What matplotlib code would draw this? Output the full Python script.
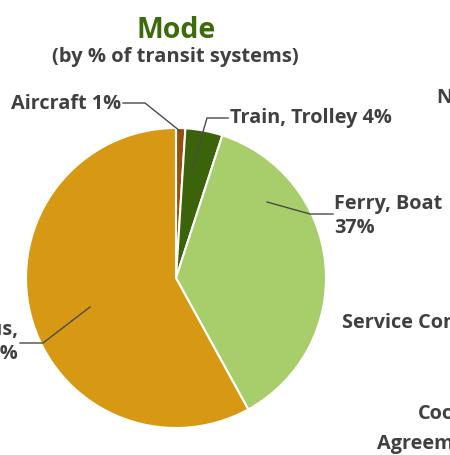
import matplotlib.pyplot as plt

labels = ['Aircraft', 'Train, Trolley', 'Ferry, Boat', 'Bus,']
shares = [1, 4, 37, 58]
colors = ['#96500e', '#3b6309', '#a8cd6b', '#d79914']

W, H = 450, 455
TXT = '#404040'
plt.rcParams['font.family'] = ['Open Sans', 'DejaVu Sans']

fig = plt.figure(figsize=(W / 100, H / 100), dpi=100)
ax = fig.add_axes([0, 0, 1, 1])


def py(y):
    # picture rows run downwards, data y upwards
    return H - y


ax.pie(shares, colors=colors, startangle=90, counterclock=False,
       center=(176, py(278)), radius=150,
       wedgeprops=dict(edgecolor='white', linewidth=1.5))
ax.set_xlim(0, W)
ax.set_ylim(0, H)
ax.set_aspect('equal')
ax.axis('off')

ax.text(176, py(30), 'Mode', color='#3d6b0c', fontsize=20.5, fontweight='bold',
        ha='center', va='center')
ax.text(175, py(57), '(by % of transit systems)', color=TXT, fontsize=14.5,
        fontweight='bold', ha='center', va='center')

# leader lines (label end -> elbow -> slice)
leaders = [
    [(123, 103), (145, 103), (180, 131)],
    [(228, 118), (207, 118), (192, 170)],
    [(333, 214), (310, 214), (267, 202)],
    [(20, 343), (43, 343), (90, 307)],
]
for pts in leaders:
    ax.plot([p[0] for p in pts], [py(p[1]) for p in pts], color='#4a4a4a', lw=1)

kw = dict(color=TXT, fontsize=14.3, fontweight='bold', va='center')
ax.text(121, py(104), f'{labels[0]} {shares[0]}%', ha='right', **kw)
ax.text(230, py(118), f'{labels[1]} {shares[1]}%', ha='left', **kw)
ax.text(334, py(216), f'{labels[2]}\n{shares[2]}%', ha='left', linespacing=1.25, **kw)
ax.text(18, py(342), f'{labels[3]}\n{shares[3]}%', ha='right', linespacing=1.25, **kw)

# labels of the neighbouring chart, cut by the edge
ax.text(437, py(98), 'No Service', ha='left', **kw)
ax.text(342, py(323), 'Service Contract', ha='left', **kw)
ax.text(418, py(414), 'Cooperative', ha='left', **kw)
ax.text(377, py(444), 'Agreement', ha='left', **kw)

fig.savefig('out.png', dpi=100)
